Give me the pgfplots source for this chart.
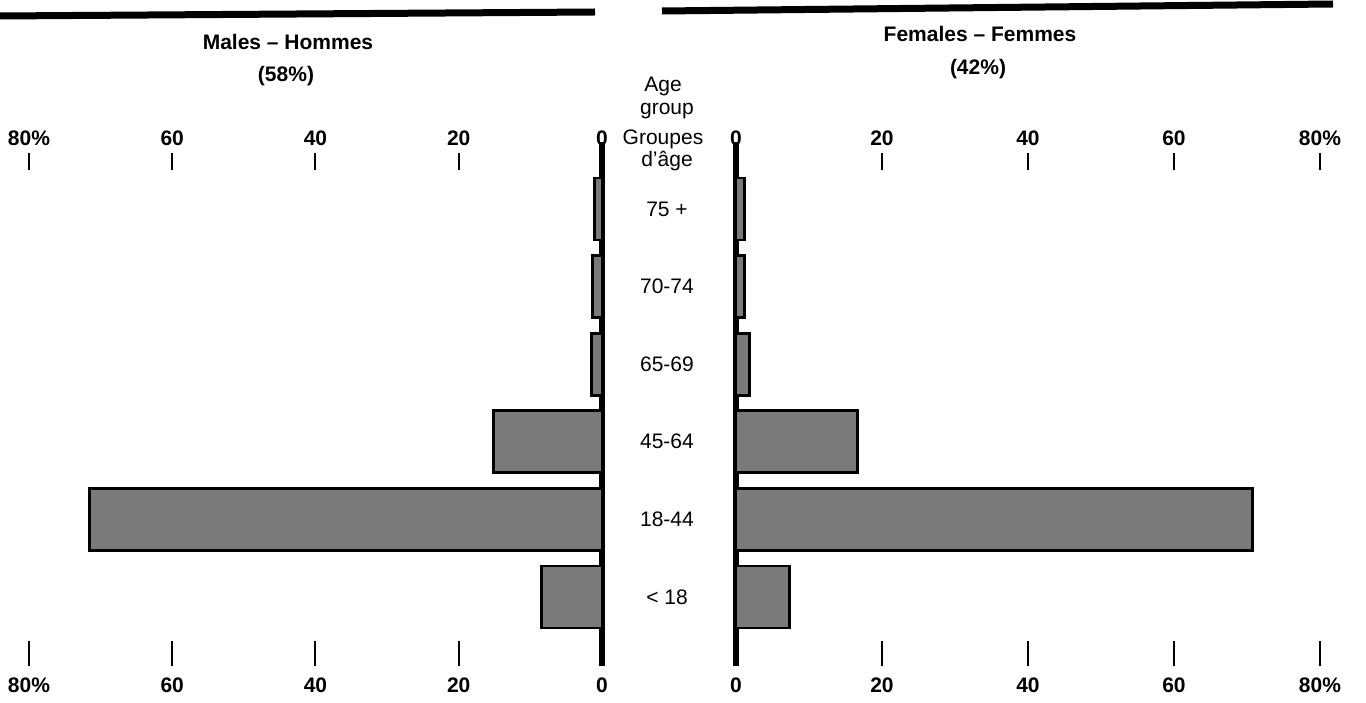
\documentclass[border=0pt]{standalone}
\usepackage{fontspec}
\setmainfont{Liberation Sans}
\usepackage{pgfplots}
\pgfplotsset{compat=1.18}

% share of each age group
\pgfplotstableread{
pos  male female
0    8.4  7.3
1    71.5 70.8
2    15.2 16.6
3    1.5  1.9
4    1.3  1.2
5    1.0  1.2
}\pyramid

\pgfplotsset{
  half/.style={
    scale only axis, anchor=south west, clip=false,
    xmin=0, xmax=80,
    xtick={0,20,40,60,80}, xticklabels={0,20,40,60,80\%},
    tick align=inside,
    x axis line style={draw=none},
    tick style={black, line width=1pt},
    ticklabel style={font=\fontsize{10.5}{12}\selectfont\bfseries},
  },
  bars/.style={
    xbar, bar width=0.8, bar shift=0pt,
    fill=black!52, draw=black, line width=1.4pt,
  },
}

\begin{document}
\begin{tikzpicture}
\path[use as bounding box] (0,0) rectangle (683pt,351pt);

% thick rules over each half
\draw[line width=3.5pt] (0pt,343pt) -- (297.5pt,345pt);
\draw[line width=3.5pt] (331pt,345.5pt) -- (666.5pt,349pt);

% males
\begin{axis}[half, at={(14.5pt,18pt)}, width=286.5pt, height=262pt,
  x dir=reverse, ymin=-0.89, ymax=5.863,
  axis x line*=bottom, axis y line*=right,
  y axis line style={line width=3pt, -},
  major tick length=12.5pt,
  xticklabel style={yshift=-2.5pt},
  ytick={0,...,5},
  yticklabels={< 18,18-44,45-64,65-69,70-74,75 +},
  ytick style={draw=none},
  yticklabel style={anchor=center, xshift=32.5pt,
    font=\fontsize{10.5}{12}\selectfont},
]
\addplot[bars] table[x=male, y=pos] {\pyramid};
\end{axis}
\begin{axis}[half, at={(14.5pt,18pt)}, width=286.5pt, height=256.5pt,
  x dir=reverse, ymin=0, ymax=1,
  axis x line*=top, axis y line=none, ytick=\empty,
  major tick length=8.5pt,
]
\end{axis}

% females
\begin{axis}[half, at={(368pt,18pt)}, width=292pt, height=262pt,
  ymin=-0.89, ymax=5.863,
  axis x line*=bottom, axis y line*=left,
  y axis line style={line width=3pt, -},
  major tick length=12.5pt,
  xticklabel style={yshift=-2.5pt},
  ytick=\empty,
]
\addplot[bars] table[x=female, y=pos] {\pyramid};
\end{axis}
\begin{axis}[half, at={(368pt,18pt)}, width=292pt, height=256.5pt,
  ymin=0, ymax=1,
  axis x line*=top, axis y line=none, ytick=\empty,
  major tick length=8.5pt,
]
\end{axis}

% titles and the age-group heading
\begin{scope}[every node/.style={anchor=base, inner sep=0pt,
    font=\fontsize{10.5}{12}\selectfont}]
\node[font=\fontsize{10.5}{12}\selectfont\bfseries] at (144pt,326pt) {Males -- Hommes};
\node[font=\fontsize{10.5}{12}\selectfont\bfseries] at (143pt,310pt) {(58\%)};
\node[font=\fontsize{10.5}{12}\selectfont\bfseries] at (490pt,330pt) {Females -- Femmes};
\node[font=\fontsize{10.5}{12}\selectfont\bfseries] at (489pt,313.5pt) {(42\%)};
\node at (331.5pt,305pt) {Age};
\node at (333.5pt,293.5pt) {group};
\node at (331.5pt,278.5pt) {Groupes};
\node at (333.5pt,267.5pt) {d’âge};
\end{scope}
\end{tikzpicture}
\end{document}
